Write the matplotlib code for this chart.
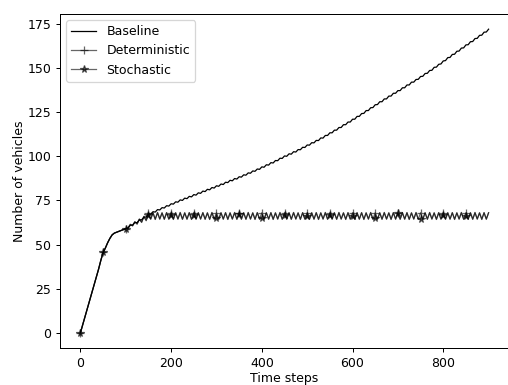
import numpy as np
import matplotlib
matplotlib.use("Agg")
import matplotlib.pyplot as plt


# time steps, sampled every 5 steps (markers every 50 steps)
time_steps = np.arange(0, 901, 5)

baseline = [
    0, 4.5, 9, 13.5, 18, 22.5, 27, 31.5, 36, 41,
    45.5, 48, 51, 53.5, 55.5, 56.5, 57, 57.5, 58, 58.5,
    59, 59.2, 61, 61.0, 62.5, 62.4, 64, 64.0, 65.5, 65.6,
    67.3, 67.2, 68.6, 68.4, 69.8, 69.6, 70.9, 70.7, 72.0, 71.8,
    73.1, 72.9, 74.2, 74.0, 75.3, 75.0, 76.3, 76.0, 77.3, 77.0,
    78.3, 78.0, 79.3, 79.0, 80.3, 80.0, 81.3, 81.0, 82.3, 82.0,
    83.3, 83.0, 84.3, 84.0, 85.3, 85.1, 86.4, 86.1, 87.4, 87.1,
    88.4, 88.2, 89.5, 89.3, 90.6, 90.4, 91.7, 91.5, 92.8, 92.6,
    94.0, 93.8, 95.2, 95.0, 96.4, 96.2, 97.6, 97.5, 98.9, 98.8,
    100.2, 100.0, 101.4, 101.2, 102.6, 102.4, 103.8, 103.7, 105.1, 105.0,
    106.4, 106.3, 107.7, 107.6, 109.0, 108.9, 110.4, 110.3, 111.8, 111.8,
    113.3, 113.3, 114.8, 114.8, 116.3, 116.3, 117.9, 117.9, 119.4, 119.4,
    121.0, 121.0, 122.6, 122.6, 124.2, 124.3, 125.9, 125.9, 127.5, 127.6,
    129.2, 129.3, 130.9, 130.9, 132.5, 132.5, 134.1, 134.1, 135.7, 135.7,
    137.2, 137.2, 138.8, 138.8, 140.4, 140.4, 142.0, 142.0, 143.5, 143.6,
    145.2, 145.3, 146.9, 147.0, 148.6, 148.7, 150.4, 150.5, 152.1, 152.3,
    154.0, 154.2, 155.9, 156.0, 157.7, 157.8, 159.5, 159.6, 161.3, 161.4,
    163.1, 163.2, 164.9, 165.0, 166.7, 166.8, 168.5, 168.6, 170.3, 170.4,
    172.0,
]

deterministic = [
    0, 4.5, 9, 13.5, 18, 22.5, 27, 31.5, 36, 41,
    45.5, 48, 51, 53.5, 55.5, 56.5, 57, 57.5, 58, 58.5,
    59, 59.5, 61.5, 60.5, 63, 61.5, 64.5, 62.5, 66, 63.5,
    68.0, 64.4, 68.0, 64.4, 68.0, 64.4, 68.0, 64.4, 68.0, 64.4,
    68.0, 64.4, 68.0, 64.4, 68.0, 64.4, 68.0, 64.4, 68.0, 64.4,
    68.0, 64.4, 68.0, 64.4, 68.0, 64.4, 68.0, 64.4, 68.0, 64.4,
    68.0, 64.4, 68.0, 64.4, 68.0, 64.4, 68.0, 64.4, 68.0, 64.4,
    68.0, 64.4, 68.0, 64.4, 68.0, 64.4, 68.0, 64.4, 68.0, 64.4,
    68.0, 64.4, 68.0, 64.4, 68.0, 64.4, 68.0, 64.4, 68.0, 64.4,
    68.0, 64.4, 68.0, 64.4, 68.0, 64.4, 68.0, 64.4, 68.0, 64.4,
    68.0, 64.4, 68.0, 64.4, 68.0, 64.4, 68.0, 64.4, 68.0, 64.4,
    68.0, 64.4, 68.0, 64.4, 68.0, 64.4, 68.0, 64.4, 68.0, 64.4,
    68.0, 64.4, 68.0, 64.4, 68.0, 64.4, 68.0, 64.4, 68.0, 64.4,
    68.0, 64.4, 68.0, 64.4, 68.0, 64.4, 68.0, 64.4, 68.0, 64.4,
    68.0, 64.4, 68.0, 64.4, 68.0, 64.4, 68.0, 64.4, 68.0, 64.4,
    68.0, 64.4, 68.0, 64.4, 68.0, 64.4, 68.0, 64.4, 68.0, 64.4,
    68.0, 64.4, 68.0, 64.4, 68.0, 64.4, 68.0, 64.4, 68.0, 64.4,
    68.0, 64.4, 68.0, 64.4, 68.0, 64.4, 68.0, 64.4, 68.0, 64.4,
    68.0,
]

stochastic = [
    0, 4.5, 9, 13.5, 18, 22.5, 27, 31.5, 36, 41,
    45.5, 48, 51, 53.5, 55.5, 56.5, 57, 57.5, 58, 58.5,
    59, 59.5, 61.2, 60.8, 62.8, 61.8, 64.3, 62.8, 65.8, 63.8,
    66.5, 64.4, 68.0, 64.2, 68.2, 64.5, 67.9, 64.3, 68.1, 64.4,
    67.0, 64.2, 68.0, 64.5, 68.2, 64.3, 67.9, 64.4, 68.1, 64.2,
    66.5, 64.4, 68.0, 64.5, 68.1, 64.3, 67.9, 64.2, 68.2, 64.4,
    65.0, 64.3, 68.0, 64.4, 68.1, 64.2, 67.9, 64.5, 68.2, 64.3,
    67.5, 64.4, 68.0, 64.3, 68.2, 64.5, 67.9, 64.2, 68.1, 64.4,
    65.0, 64.3, 68.0, 64.4, 68.1, 64.2, 67.9, 64.5, 68.2, 64.3,
    67.0, 64.4, 68.0, 64.3, 68.2, 64.5, 67.9, 64.2, 68.1, 64.4,
    66.0, 64.3, 68.0, 64.4, 68.1, 64.2, 67.9, 64.5, 68.2, 64.3,
    67.0, 64.4, 68.0, 64.3, 68.2, 64.5, 67.9, 64.2, 68.1, 64.4,
    66.0, 64.3, 68.0, 64.4, 68.1, 64.2, 67.9, 64.5, 68.2, 64.3,
    65.0, 64.4, 68.0, 64.3, 68.2, 64.5, 67.9, 64.2, 68.1, 64.4,
    68.0, 64.3, 68.0, 64.4, 68.1, 64.2, 67.9, 64.5, 68.2, 64.3,
    64.5, 64.4, 68.0, 64.3, 68.2, 64.5, 67.9, 64.2, 68.1, 64.4,
    67.0, 64.3, 68.0, 64.4, 68.1, 64.2, 67.9, 64.5, 68.2, 64.3,
    66.0, 64.4, 68.0, 64.3, 68.2, 64.5, 67.9, 64.2, 68.1, 64.4,
    68.0,
]


def main():
    dpi = 90
    fig = plt.figure(figsize=(508 / dpi, 385 / dpi), dpi=dpi)
    ax = fig.add_axes([60 / 508, 37 / 385, 449 / 508, 334 / 385])

    marks = slice(0, 180, 10)  # one marker every 50 steps, last at 850
    ax.plot(time_steps, baseline, color="k", linewidth=1.0, label="Baseline")
    ax.plot(time_steps, deterministic, color="k", alpha=0.6, linewidth=1.0,
            marker="+", markevery=marks, label="Deterministic")
    ax.plot(time_steps, stochastic, color="k", alpha=0.6, linewidth=1.0,
            marker="*", markevery=marks, label="Stochastic")

    ax.set_xlabel("Time steps", labelpad=1.5)
    ax.set_ylabel("Number of vehicles", labelpad=1.5)
    ax.legend(loc="upper left")
    fig.savefig("out.png", dpi=dpi)


if __name__ == "__main__":
    main()
